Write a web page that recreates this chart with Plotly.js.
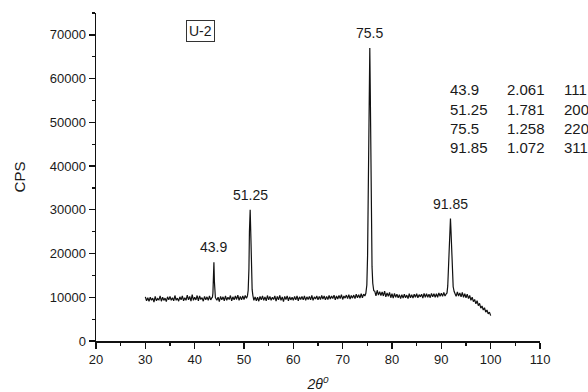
<!DOCTYPE html>
<html>
<head>
<meta charset="utf-8">
<script src="https://cdn.plot.ly/plotly-3.0.1.min.js"></script>
<style>html,body{margin:0;padding:0;background:#fff;}#chart{width:588px;height:392px;}</style>
</head>
<body>
<div id="chart"></div>
<script>
// 2-theta positions (degrees)
const twoTheta = [
  30,30.25,30.5,30.75, 31,31.25,31.5,31.75, 32,32.25,32.5,32.75, 33,33.25,33.5,33.75,
  34,34.25,34.5,34.75, 35,35.25,35.5,35.75, 36,36.25,36.5,36.75, 37,37.25,37.5,37.75,
  38,38.25,38.5,38.75, 39,39.25,39.5,39.75, 40,40.25,40.5,40.75, 41,41.25,41.5,41.75,
  42,42.25,42.5,42.75, 43,43.25,43.5,
  43.6,43.7,43.8,43.9,44.0,44.1,44.2,
  44.5,44.75, 45,45.25,45.5,45.75, 46,46.25,46.5,46.75, 47,47.25,47.5,47.75,
  48,48.25,48.5,48.75, 49,49.25,49.5,49.75, 50,50.25,50.5,
  50.7,50.85,51.0,51.1,51.25,51.4,51.5,51.65,51.8,
  52,52.25,52.5,52.75, 53,53.25,53.5,53.75, 54,54.25,54.5,54.75, 55,55.25,55.5,55.75,
  56,56.25,56.5,56.75, 57,57.25,57.5,57.75, 58,58.25,58.5,58.75, 59,59.25,59.5,59.75,
  60,60.25,60.5,60.75, 61,61.25,61.5,61.75, 62,62.25,62.5,62.75, 63,63.25,63.5,63.75,
  64,64.25,64.5,64.75, 65,65.25,65.5,65.75, 66,66.25,66.5,66.75, 67,67.25,67.5,67.75,
  68,68.25,68.5,68.75, 69,69.25,69.5,69.75, 70,70.25,70.5,70.75, 71,71.25,71.5,71.75,
  72,72.25,72.5,72.75, 73,73.25,73.5,73.75, 74,74.25,74.5,
  74.7,74.9,75.05,75.2,75.35,75.5,75.6,75.7,75.8,75.95,76.1,76.3,
  76.5,76.75, 77,77.25,77.5,77.75, 78,78.25,78.5,78.75, 79,79.25,79.5,79.75,
  80,80.25,80.5,80.75, 81,81.25,81.5,81.75, 82,82.25,82.5,82.75, 83,83.25,83.5,83.75,
  84,84.25,84.5,84.75, 85,85.25,85.5,85.75, 86,86.25,86.5,86.75, 87,87.25,87.5,87.75,
  88,88.25,88.5,88.75, 89,89.25,89.5,89.75, 90,90.25,90.5,90.75, 91,
  91.15,91.3,91.45,91.6,91.75,91.85,91.95,92.1,92.25,92.4,92.6,
  92.75, 93,93.25,93.5,93.75, 94,94.25,94.5,94.75, 95,95.25,95.5,95.75,
  96,96.25,96.5,96.75, 97,97.25,97.5,97.75, 98,98.25,98.5,98.75, 99,99.25,99.5,99.75, 100
];
// intensity (counts per second)
const cps = [
  10100,9200,9900,9100, 10000,9300,9800,8900, 10200,9200,9700,9400, 10300,9100,10000,9300,
  9800,9000,10100,9400, 10200,9300,9900,9200, 10400,9300,9800,9100, 10100,9400,10300,9200,
  9900,9300,10500,9400, 10200,9100,10600,9300, 10000,9400,10400,9200, 10300,9500,9900,9100,
  10200,9400,10100,9300, 10300,9400,9900,
  10000,10900,14200,18000,13600,10700,9900,
  9300,10000, 9000,10200,9400,10100, 9200,10300,9300,10000, 9500,10400,9200,10100,
  9400,10300,9500,10500, 9300,10200,9400,10300, 9500,10400,9800,
  10300,11600,16500,25000,30000,23500,16000,11800,10400,
  9300,10100,9200,10000, 9100,10200,9400,10300, 9300,10100,9200,10400, 9400,10200,9300,10000,
  9500,10300,9100,10200, 9400,10400,9300,10100, 9000,10200,9500,10300, 9200,10100,9400,10000,
  9300,10200,9400,10300, 9200,10100,9500,10200, 9400,10300,9300,10100, 9500,10200,9400,10400,
  9300,10100,9600,10300, 9400,10200,9500,10400, 9600,10300,9400,10200, 9500,10400,9600,10300,
  9700,10500,9400,10300, 9600,10400,9700,10600, 9500,10300,9800,10500, 9700,10600,9600,10400,
  9800,10500,9700,10700, 9900,10600,9800,10800, 9900,10700,10300,
  10900,12800,19500,36000,56000,67000,57000,41000,27000,17000,13200,11500,
  11400,10300, 11600,10500,11300,10400, 11200,10300,11400,10100, 11000,10200,11100,9900,
  10800,9800,10900,10000, 10700,9900,10600,9700, 10600,9800,10700,9900, 10500,9700,10800,9900,
  10600,9800,10700,10000, 10800,9900,10600,10100, 10700,9800,10900,10000, 10800,10000,10700,9900,
  10900,10100,10800,10000, 10800,10000,11000,10200, 10900,10200,11100,10300, 10800,
  11000,12600,16200,22000,27000,28000,25500,19500,15000,12400,11300,
  11000, 10200,11200,10300,11000, 10100,11100,10000,10800, 9900,10700,9700,10400,
  9300,10000,9000,9500, 8500,9200,8100,8600, 7500,8000,7100,7600, 6600,7100,6200,6600, 5800
];
// peak table
const peakPos = [43.9, 51.25, 75.5, 91.85];
const peakLabels = ['43.9', '51.25', '75.5', '91.85'];
const dSpacing = ['2.061', '1.781', '1.258', '1.072'];
const hkl = ['111', '200', '220', '311'];
const sampleName = 'U-2';

const txtColor = '#1a1a1a';
const fontFam = 'Liberation Sans, Arial, sans-serif';

const annotations = [];
peakPos.forEach((p, i) => {
  const idx = twoTheta.indexOf(p);
  annotations.push({
    x: p, y: cps[idx], xref: 'x', yref: 'y', text: peakLabels[i],
    showarrow: false, yanchor: 'middle', xanchor: 'center', yshift: 15,
    font: {size: 14, color: txtColor, family: fontFam}
  });
});
const rowY = [0.768, 0.707, 0.649, 0.591];
const colX = [0.793, 0.921, 1.050];
peakLabels.forEach((lab, i) => {
  [lab, dSpacing[i], hkl[i]].forEach((t, j) => {
    annotations.push({
      x: colX[j], y: rowY[i], xref: 'paper', yref: 'paper', text: t,
      showarrow: false, xanchor: 'left', yanchor: 'middle',
      font: {size: 15, color: txtColor, family: fontFam}
    });
  });
});
annotations.push({
  x: 0.236, y: 0.946, xref: 'paper', yref: 'paper', text: sampleName,
  showarrow: false, xanchor: 'center', yanchor: 'middle',
  bordercolor: '#333', borderwidth: 1, borderpad: 2,
  font: {size: 14, color: txtColor, family: fontFam}
});

const trace = {
  x: twoTheta, y: cps, type: 'scatter', mode: 'lines',
  line: {color: '#111', width: 1.2}, hoverinfo: 'skip'
};

const layout = {
  width: 588, height: 392,
  margin: {l: 96, r: 48, t: 13, b: 51, pad: 0},
  paper_bgcolor: '#fff', plot_bgcolor: '#fff',
  showlegend: false,
  font: {family: fontFam, color: txtColor, size: 13},
  xaxis: {
    range: [20, 110], tick0: 20, dtick: 10,
    ticks: 'outside', ticklen: 6, tickwidth: 1.3, tickcolor: '#111',
    showline: true, linewidth: 1.5, linecolor: '#111',
    showgrid: false, zeroline: false,
    minor: {dtick: 5, ticks: 'outside', ticklen: 3, tickwidth: 1.2, tickcolor: '#111', showgrid: false},
    tickfont: {size: 13, family: fontFam, color: txtColor},
    title: {text: '<i>2θ<sup>0</sup></i>', font: {size: 14, family: fontFam, color: txtColor}, standoff: 13}
  },
  yaxis: {
    range: [0, 75000], tick0: 0, dtick: 10000, tickformat: 'd',
    ticks: 'outside', ticklen: 6, tickwidth: 1.3, tickcolor: '#111',
    showline: true, linewidth: 1.5, linecolor: '#111',
    showgrid: false, zeroline: false,
    minor: {dtick: 5000, ticks: 'outside', ticklen: 3, tickwidth: 1.2, tickcolor: '#111', showgrid: false},
    tickfont: {size: 13, family: fontFam, color: txtColor},
    title: {text: 'CPS', font: {size: 15, family: fontFam, color: txtColor}, standoff: 20}
  },
  annotations: annotations
};

Plotly.newPlot('chart', [trace], layout, {displayModeBar: false, staticPlot: true});
</script>
</body>
</html>
